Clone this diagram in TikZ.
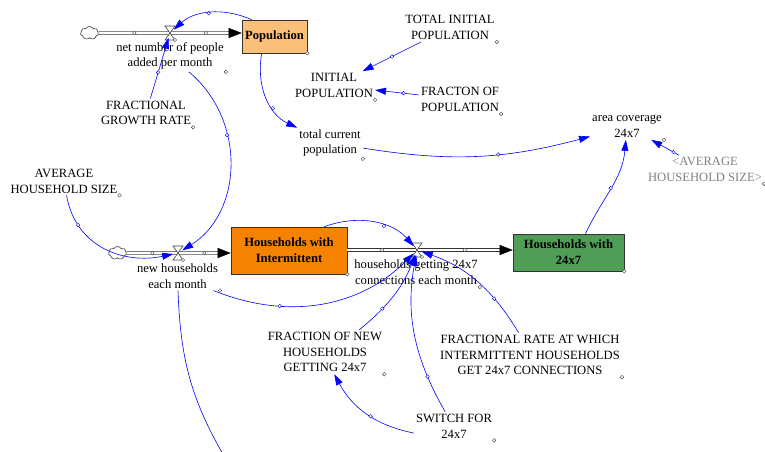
\documentclass[tikz,border=0pt]{standalone}
\usepackage{fontspec}
\setmainfont{Liberation Serif}
\usepackage{tikz}
\usetikzlibrary{arrows.meta}
\usetikzlibrary{shapes.symbols}
\newcommand{\diagfont}{\fontsize{12.6}{15.8}\selectfont}
\definecolor{popFill}{RGB}{250,192,122}
\definecolor{intFill}{RGB}{245,130,0}
\definecolor{fullFill}{RGB}{80,157,88}
\definecolor{linkBlue}{RGB}{0,0,255}
\tikzset{
    valve/.pic={
		\filldraw[draw=black!75, fill=white, line width=0.6pt] (-5pt,7pt) -- (5pt,7pt) -- (-5pt,-7pt) -- (5pt,-7pt) -- cycle;
		\filldraw[draw=black!75, fill=white, line width=0.4pt] (5pt,-7pt) circle (1.7pt);
	}
}
\tikzset{
    stockBox/.style={draw=black!80, line width=0.6pt, align=center, inner sep=0pt, font=\diagfont\bfseries, label={[varMark]south east:{}}},
    auxVar/.style={align=center, inner sep=2pt, font=\diagfont, label={[varMark]south east:{}}},
    varMark/.style={circle, draw=black!75, fill=white, line width=0.4pt, inner sep=0pt, minimum size=3.6pt, anchor=center},
    arcHandle/.style={circle, draw=linkBlue, fill=white, line width=0.4pt, inner sep=0pt, minimum size=3.6pt},
    pipeHandle/.style={arcHandle, draw=black!75},
    infoLink/.style={draw=linkBlue, line width=0.6pt, -{Triangle[length=11pt,width=7pt]}},
    toValve/.style={infoLink, shorten >=5pt},
    flowPipe/.style={draw=black!80, double=white, double distance=2pt, line width=0.6pt, shorten >=12pt},
    pipeHead/.style={draw=black, -{Triangle[length=13pt,width=10pt]}},
    cloudSrc/.style={cloud, draw=black!80, cloud puffs=7, cloud puff arc=120, aspect=1.5, line width=0.6pt, minimum width=18pt, minimum height=13pt, inner sep=0pt}
}
\begin{document}
\begin{tikzpicture}[x=1pt, y=1pt]
	\useasboundingbox (0,0) rectangle (765,-452);
	% stocks
	\node[stockBox, fill=popFill, minimum width=65pt, minimum height=33pt] (pop) at (274.5,-36.5) {Population};
	\node[stockBox, fill=intFill, minimum width=116pt, minimum height=47pt] (hwInt) at (289,-250.5) {Households with\\Intermittent};
	\node[stockBox, fill=fullFill, minimum width=111pt, minimum height=37pt] (hwFull) at (568.5,-252.5) {Households with\\24x7};
	\node[cloudSrc] (cloud1) at (89.5,-33) {};
	\node[cloudSrc] (cloud2) at (117.5,-253) {};
	\coordinate (v1) at (170,-33);
	\coordinate (v2) at (178,-253);
	\coordinate (v3) at (417,-250);
	\coordinate (p1) at (v1 -| pop.west);
	\coordinate (p2) at (v2 -| hwInt.west);
	\coordinate (p3) at (v3 -| hwFull.west);
	\coordinate (offEdge) at (224,-456);
	% variables
	\node[auxVar] (netAdd) at (170,-56) {net number of people\\added per month};
	\node[auxVar] (fracGrowth) at (146,-113) {FRACTIONAL\\GROWTH RATE};
	\node[auxVar] (totInit) at (450,-27.5) {TOTAL INITIAL\\POPULATION};
	\node[auxVar] (initPop) at (334,-85.5) {INITIAL\\POPULATION};
	\node[auxVar] (fracPop) at (460,-99.5) {FRACTON OF\\POPULATION};
	\node[auxVar] (totCur) at (330,-143) {total current\\population};
	\node[auxVar] (areaCov) at (627,-126.5) {area coverage\\24x7};
	\node[auxVar, text=black!50] (avgHhGhost) at (705,-169.5) {<AVERAGE\\HOUSEHOLD SIZE>};
	\node[auxVar] (avgHh) at (64,-181) {AVERAGE\\HOUSEHOLD SIZE};
	\node[auxVar] (newHh) at (177.5,-276) {new households\\each month};
	\node[auxVar] (hhGet) at (416,-272.5) {households getting 24x7\\connections each month};
	\node[auxVar] (fracNew) at (325,-352) {FRACTION OF NEW\\HOUSEHOLDS\\GETTING 24x7};
	\node[auxVar] (fracRate) at (530,-355) {FRACTIONAL RATE AT WHICH\\INTERMITTENT HOUSEHOLDS\\GET 24x7 CONNECTIONS};
	\node[auxVar] (sw24) at (454,-426) {SWITCH FOR\\24x7};
	% flows
	\draw[flowPipe] (cloud1) -- (p1);
	\draw[pipeHead] ([xshift=-13pt]p1) -- (p1);
	\path (cloud1) -- node[pipeHandle]{} (v1) -- node[pipeHandle]{} (p1);
	\pic at (v1) {valve};
	\draw[flowPipe] (cloud2) -- (p2);
	\draw[pipeHead] ([xshift=-13pt]p2) -- (p2);
	\path (cloud2) -- node[pipeHandle]{} (v2) -- node[pipeHandle]{} (p2);
	\pic at (v2) {valve};
	\draw[flowPipe] (hwInt.east |- v3) -- (p3);
	\draw[pipeHead] ([xshift=-13pt]p3) -- (p3);
	\path (hwInt.east |- v3) -- node[pipeHandle]{} (v3) -- node[pipeHandle]{} (p3);
	\pic at (v3) {valve};
	% links
	\draw[toValve] (fracGrowth) -- node[arcHandle, pos=0.4]{} (v1);
	\draw[toValve] ([xshift=10pt]pop.north west) to[bend right=33] node[arcHandle]{} (v1);
	\draw[infoLink] ([xshift=20pt]pop.south west) to[out=-100, in=155] node[arcHandle, pos=0.65]{} (totCur);
	\draw[infoLink] (totInit) -- node[arcHandle]{} (initPop);
	\draw[infoLink] (fracPop) -- node[arcHandle, pos=0.35]{} (initPop);
	\draw[infoLink] (totCur) to[bend right=12] node[arcHandle, pos=0.6]{} (areaCov);
	\draw[infoLink] (avgHhGhost) -- node[arcHandle, pos=0.2]{} (areaCov);
	\draw[infoLink] ([xshift=17pt]hwFull.north) to[out=65, in=-95] node[arcHandle]{} (areaCov);
	\draw[toValve] (avgHh) to[out=-80, in=192, looseness=1.1] node[arcHandle, pos=0.22]{} (v2);
	\draw[toValve] (netAdd) to[out=-40, in=32, looseness=1.07] node[arcHandle, pos=0.35]{} (v2);
	\draw[toValve] (hwInt.34) to[out=20, in=131] node[arcHandle, pos=0.6]{} (v3);
	\draw[toValve] (newHh) to[out=-22, in=-135] node[arcHandle, pos=0.3]{} (v3);
	\draw[toValve] (fracNew) to[bend right=15] node[arcHandle, pos=0.3]{} (v3);
	\draw[infoLink] (sw24.190) to[bend left=25] node[arcHandle, pos=0.45]{} (fracNew);
	\draw[toValve] (sw24) to[bend left=20] node[arcHandle, pos=0.22]{} (v3);
	\draw[toValve] (fracRate) to[bend right=20] node[arcHandle, pos=0.3]{} (v3);
	\draw[infoLink, -] (newHh) to[out=-88, in=120] (offEdge);
\end{tikzpicture}
\end{document}
